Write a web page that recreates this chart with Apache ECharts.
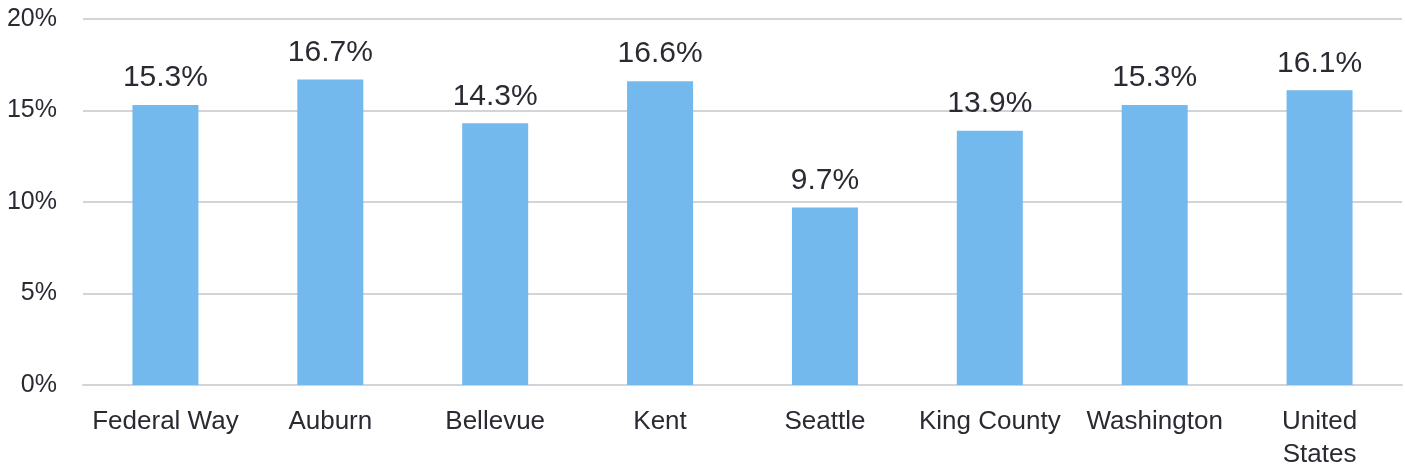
<!DOCTYPE html>
<html>
<head>
    <meta charset="utf-8">
    <title>index</title>
    <style>
        html, body { margin: 0; padding: 0; background: #fff; }
        #container { width: 1405px; height: 471px; }
    </style>
</head>
<body>
    <div id="container"></div>
</body>
<script src="https://cdn.jsdelivr.net/npm/echarts@6/dist/echarts.min.js"></script>
<script type="text/javascript">
    // data
    var categories = ['Federal Way', 'Auburn', 'Bellevue', 'Kent', 'Seattle', 'King County', 'Washington', 'United\nStates'];
    var values = [15.3, 16.7, 14.3, 16.6, 9.7, 13.9, 15.3, 16.1];
    var yTicks = [0, 5, 10, 15, 20];

    var textColor = '#2a2a33';
    var font = '"Liberation Sans", Arial, sans-serif';

    var dom = document.getElementById('container');
    var myChart = echarts.init(dom);

    var option = {
        animation: false,
        grid: { left: 83, right: 3, top: 19, bottom: 83, containLabel: false },
        xAxis: {
            type: 'category',
            data: categories,
            axisTick: { show: false },
            axisLine: { lineStyle: { color: '#d3d3da', width: 2 } },
            axisLabel: {
                color: textColor, fontFamily: font, fontSize: 26,
                margin: 20, lineHeight: 33, interval: 0
            }
        },
        yAxis: {
            type: 'value',
            min: yTicks[0],
            max: yTicks[yTicks.length - 1],
            interval: 5,
            axisLine: { show: false },
            axisTick: { show: false },
            splitLine: { lineStyle: { color: '#d3d3da', width: 2 } },
            axisLabel: {
                color: textColor, fontFamily: font, fontSize: 25, margin: 26,
                formatter: function (v) { return v + '%'; }
            }
        },
        series: [{
            type: 'bar',
            data: values,
            barWidth: 66,
            itemStyle: { color: '#74b9ee' },
            label: {
                show: true, position: 'top', distance: 12,
                color: textColor, fontFamily: font, fontSize: 30,
                formatter: function (p) { return p.value.toFixed(1) + '%'; }
            }
        }]
    };

    myChart.setOption(option, true);
</script>
</html>
